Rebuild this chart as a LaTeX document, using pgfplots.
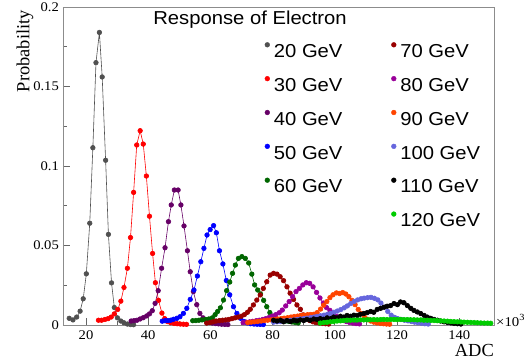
\documentclass[border=0pt]{standalone}
\usepackage{fontspec}
\setmainfont{Liberation Serif}
\newfontfamily\sansw[FakeStretch=1.08]{Liberation Sans}
\newfontfamily\serifw[FakeStretch=1.1]{Liberation Serif}
\usepackage{pgfplots}
\pgfplotsset{compat=1.18}
\newcommand\legfont{\sansw\fontsize{18.8}{20}\selectfont}
\newcommand\tickfont{\serifw\fontsize{13.3}{14}\selectfont}
\newcommand\labfont{\fontsize{18.5}{20}\selectfont}
\newcommand\smallfont{\serifw\fontsize{13.5}{14}\selectfont}
\definecolor{c20}{RGB}{80,80,80}
\definecolor{c30}{RGB}{255,0,0}
\definecolor{c40}{RGB}{102,0,102}
\definecolor{c50}{RGB}{0,0,255}
\definecolor{c60}{RGB}{0,102,0}
\definecolor{c70}{RGB}{153,0,0}
\definecolor{c80}{RGB}{153,0,153}
\definecolor{c90}{RGB}{255,68,0}
\definecolor{c100}{RGB}{102,102,221}
\definecolor{c110}{RGB}{0,0,0}
\definecolor{c120}{RGB}{0,204,0}
\begin{document}
\begin{tikzpicture}
\begin{axis}[
  at={(0,0)}, anchor=south west, scale only axis,
  width=431bp, height=318bp,
  xmin=12.6, xmax=151.15, ymin=0, ymax=0.2,
  clip=false,
  axis line style={draw=black!45, line width=0.8bp},
  xtick={20,40,60,80,100,120,140}, xticklabels={20,40,60,80,100,120,140},
  minor xtick={30,50,70,90,110,130,150},
  ytick={0,0.05,0.1,0.15,0.2}, yticklabels={0,0.05,0.1,0.15,0.2},
  minor ytick={0.025,0.075,0.125,0.175},
  xtick pos=bottom, ytick pos=left, tick align=inside,
  major tick length=7bp, minor tick length=4bp,
  tick style={black!60, line width=0.8bp},
  /pgf/number format/assume math mode=true,
  xticklabel style={font=\tickfont, inner sep=0pt, anchor=north, yshift=-5bp},
  yticklabel style={font=\tickfont, inner sep=0pt, anchor=east, xshift=-4bp},
  ser/.style={mark=*, mark size=2.3bp, line width=0.6bp, forget plot, mark options={solid}},
  legend columns=2,
  legend image code/.code={\fill[#1] (0bp,6bp) circle (2.4bp);},
  legend style={at={(rel axis cs:0.468,0.8893)}, anchor=north west,
    draw=none, fill=none, inner sep=0pt, outer sep=0pt, row sep=18.5bp,
    font=\legfont, legend cell align=left,
    nodes={inner sep=0pt, text height=13.5bp, text depth=0bp},
    /tikz/every odd column/.append style={column sep=4bp},
    /tikz/every even column/.append style={column sep=48.7bp}},
]
% 20 GeV
\addplot[ser, c20] coordinates {(14.6,0.0042)(15.8,0.0032)(17.0,0.0050)(18.1,0.0087)(19.1,0.0165)(20.1,0.0322)(21.2,0.064)(22.2,0.1115)(23.2,0.165)(24.3,0.184)(25.2,0.156)(26.3,0.1036)(27.2,0.057)(28.2,0.0265)(29.1,0.011)(30.1,0.0045)(31.2,0.0025)(32.2,0.0014)(33.3,0.0006)(34.3,0.0003)(35.3,0.0002)};
% 30 GeV
\addplot[ser, c30] coordinates {(24.0,0.003)(25.0,0.003)(26.1,0.0035)(27.1,0.004)(28.1,0.005)(29.1,0.007)(30.2,0.0098)(31.2,0.0150)(32.2,0.0236)(33.3,0.0357)(34.3,0.055)(35.3,0.0834)(36.3,0.1132)(37.4,0.1222)(38.4,0.1138)(39.4,0.0937)(40.4,0.0684)(41.4,0.045)(42.3,0.0266)(43.3,0.0155)(44.4,0.0075)(45.3,0.0040)(46.2,0.0022)(47.2,0.0014)(48.3,0.0010)(49.3,0.0008)(50.3,0.0006)(51.3,0.0005)(52.3,0.0004)};
% 40 GeV
\addplot[ser, c40] coordinates {(34.5,0.0025)(35.4,0.0027)(36.4,0.003)(37.4,0.0038)(38.4,0.0046)(39.5,0.0057)(40.4,0.007)(41.3,0.009)(42.2,0.0136)(43.2,0.0216)(44.3,0.0357)(45.4,0.0486)(46.5,0.065)(47.4,0.0755)(48.4,0.0849)(49.6,0.0849)(50.5,0.0755)(51.5,0.0623)(52.6,0.0467)(53.5,0.0335)(54.5,0.021)(55.6,0.0128)(56.6,0.0073)(57.6,0.0045)(58.6,0.0028)(59.6,0.0018)(60.6,0.0012)(61.6,0.0009)(62.6,0.0007)(63.6,0.0005)(64.6,0.0004)(65.6,0.0003)};
% 50 GeV
\addplot[ser, c50] coordinates {(44.5,0.0024)(45.4,0.0027)(46.3,0.0028)(47.2,0.003)(48.1,0.0036)(49.2,0.0042)(50.2,0.0052)(51.3,0.0073)(52.4,0.0105)(53.5,0.0161)(54.7,0.022)(55.8,0.0308)(56.9,0.0398)(57.9,0.0482)(58.9,0.0566)(59.9,0.0600)(61.0,0.0625)(61.9,0.0580)(62.9,0.0467)(64.0,0.0384)(65.1,0.0280)(66.2,0.0190)(67.4,0.0115)(68.5,0.0073)(69.7,0.0042)(70.8,0.0022)(71.8,0.0013)(72.9,0.0008)(74.0,0.0006)(75.0,0.0005)(76.0,0.0004)(77.0,0.0003)};
% 60 GeV
\addplot[ser, c60] coordinates {(54.3,0.0027)(55.3,0.0028)(56.3,0.003)(57.3,0.0032)(58.4,0.0035)(59.5,0.0038)(60.6,0.0045)(61.5,0.0065)(62.3,0.0085)(63.2,0.0108)(64.2,0.0157)(65.2,0.0216)(66.2,0.027)(67.1,0.0325)(68.0,0.0377)(69.0,0.0419)(70.1,0.043)(71.2,0.0419)(72.3,0.039)(73.3,0.032)(74.2,0.0252)(75.2,0.022)(76.1,0.0195)(77.1,0.0155)(78.1,0.0115)(79.1,0.0078)(80.1,0.0055)(81.1,0.004)(82.1,0.0032)(83.2,0.0028)(84.2,0.0025)(85.2,0.0022)(86.2,0.0019)(87.2,0.0016)(88.2,0.0013)};
% 70 GeV
\addplot[ser, c70] coordinates {(58.8,0.0012)(59.8,0.0015)(60.8,0.002)(61.8,0.0025)(62.9,0.0028)(63.9,0.003)(64.9,0.0032)(65.9,0.0035)(66.9,0.004)(67.9,0.0045)(68.9,0.005)(69.9,0.0055)(70.9,0.0065)(71.9,0.008)(72.8,0.0099)(73.8,0.0126)(74.9,0.0157)(76.0,0.0189)(77.0,0.023)(78.1,0.0272)(79.2,0.0314)(80.3,0.0325)(81.4,0.032)(82.4,0.0304)(83.5,0.0279)(84.6,0.024)(85.6,0.020)(86.7,0.0161)(87.8,0.0126)(88.9,0.0099)(89.9,0.0063)(90.9,0.004)(91.9,0.0028)(92.9,0.002)(93.9,0.0015)(95.0,0.0012)(96.0,0.001)(97.0,0.0008)(98.0,0.0006)};
% 80 GeV
\addplot[ser, c80] coordinates {(70.5,0.0015)(71.5,0.0018)(72.6,0.002)(73.6,0.0023)(74.7,0.0027)(75.7,0.003)(76.8,0.0035)(77.8,0.004)(78.9,0.0048)(79.9,0.0056)(81.0,0.0065)(82.1,0.0077)(83.1,0.0094)(84.2,0.012)(85.3,0.0147)(86.4,0.0178)(87.5,0.021)(88.6,0.023)(89.7,0.0252)(90.8,0.0266)(91.9,0.0262)(93.0,0.024)(94.1,0.0205)(95.2,0.017)(96.3,0.0138)(97.3,0.011)(98.4,0.0092)(99.5,0.0073)(100.5,0.0055)(101.6,0.004)(102.6,0.003)(103.7,0.0022)(104.7,0.0016)(105.8,0.0012)(106.8,0.0009)(107.9,0.0007)};
% 90 GeV
\addplot[ser, c90] coordinates {(72.0,0.0015)(73.1,0.0018)(74.1,0.002)(75.2,0.0022)(76.3,0.0025)(77.3,0.0028)(78.4,0.003)(79.5,0.0032)(80.5,0.0035)(81.6,0.0038)(82.7,0.004)(83.7,0.0043)(84.8,0.0046)(85.9,0.005)(86.9,0.0053)(88.0,0.0056)(89.0,0.006)(90.1,0.0062)(91.2,0.0065)(92.2,0.0066)(93.3,0.0068)(94.3,0.0078)(95.4,0.0100)(96.4,0.0125)(97.4,0.0147)(98.4,0.0172)(99.4,0.0190)(100.5,0.0202)(101.5,0.0198)(102.5,0.0204)(103.5,0.0195)(104.5,0.0178)(105.5,0.0155)(106.5,0.0128)(107.5,0.0098)(108.5,0.0072)(109.5,0.005)(110.5,0.0036)(111.5,0.0025)(112.5,0.0018)(113.5,0.0013)(114.6,0.001)(115.6,0.0008)(116.6,0.0006)(117.6,0.0005)};
% 100 GeV
\addplot[ser, c100] coordinates {(80.3,0.0018)(81.4,0.002)(82.5,0.0022)(83.6,0.0025)(84.6,0.0027)(85.7,0.003)(86.8,0.0032)(87.9,0.0035)(88.9,0.0038)(90.0,0.004)(91.1,0.0043)(92.2,0.0047)(93.3,0.005)(94.3,0.0054)(95.4,0.0058)(96.5,0.0062)(97.6,0.0067)(98.6,0.0073)(99.7,0.008)(100.8,0.0088)(101.9,0.0097)(103.0,0.0108)(104.0,0.012)(105.1,0.0135)(106.2,0.0148)(107.3,0.0158)(108.4,0.0165)(109.4,0.0169)(110.5,0.0172)(111.6,0.0174)(112.7,0.0168)(113.8,0.0158)(114.8,0.0138)(115.9,0.0112)(117.0,0.0085)(118.1,0.0062)(119.2,0.0048)(120.2,0.0040)(121.3,0.0035)(122.4,0.003)(123.5,0.0026)(124.6,0.0022)(125.6,0.0018)(126.7,0.0014)(127.8,0.0011)(128.9,0.0008)(130.0,0.0006)};
% 110 GeV
\addplot[ser, c110] coordinates {(80.3,0.003)(81.4,0.0025)(82.5,0.003)(83.5,0.002)(84.6,0.0028)(85.7,0.0022)(86.8,0.003)(87.8,0.0026)(88.9,0.0032)(90.0,0.0028)(91.0,0.0035)(92.1,0.003)(93.2,0.0038)(94.3,0.0034)(95.3,0.004)(96.4,0.0036)(97.5,0.0045)(98.6,0.004)(99.6,0.005)(100.7,0.0045)(101.8,0.0055)(102.9,0.005)(103.9,0.006)(105.0,0.0055)(106.1,0.0062)(107.2,0.006)(108.2,0.0068)(109.3,0.0072)(110.4,0.0078)(111.5,0.0085)(112.5,0.008)(113.6,0.0098)(114.7,0.0105)(115.8,0.0112)(116.8,0.0118)(117.9,0.0122)(119.0,0.0135)(120.1,0.0128)(121.1,0.0145)(122.2,0.0140)(123.3,0.0122)(124.4,0.0105)(125.4,0.0092)(126.5,0.0082)(127.6,0.0072)(128.7,0.006)(129.7,0.005)(130.8,0.0042)(131.9,0.0035)(133.0,0.003)(134.0,0.0025)(135.1,0.002)(136.2,0.0016)(137.3,0.0013)(138.3,0.001)(139.4,0.0008)(140.5,0.0006)};
% 120 GeV
\addplot[ser, c120] coordinates {(95.3,0.0012)(96.4,0.0015)(97.5,0.0017)(98.5,0.002)(99.6,0.0022)(100.7,0.0025)(101.8,0.0026)(102.8,0.0028)(103.9,0.003)(105.0,0.003)(106.1,0.0031)(107.1,0.0031)(108.2,0.0032)(109.3,0.0032)(110.4,0.0033)(111.4,0.0033)(112.5,0.0034)(113.6,0.0033)(114.7,0.0034)(115.7,0.0035)(116.8,0.0034)(117.9,0.0035)(119.0,0.0035)(120.0,0.0034)(121.1,0.0035)(122.2,0.0034)(123.3,0.0034)(124.3,0.0033)(125.4,0.0033)(126.5,0.0032)(127.6,0.0032)(128.6,0.003)(129.7,0.003)(130.8,0.0029)(131.9,0.0028)(132.9,0.0027)(134.0,0.0026)(135.1,0.0025)(136.2,0.0024)(137.2,0.0022)(138.3,0.0021)(139.4,0.002)(140.5,0.0019)(141.5,0.0018)(142.6,0.0017)(143.7,0.0016)(144.8,0.0015)(145.8,0.0014)(146.9,0.0013)(148.0,0.0012)(149.1,0.0012)(150.1,0.0011)};
% legend (column-wise order)
\addlegendimage{color=c20}\addlegendentry{20 GeV}
\addlegendimage{color=c70}\addlegendentry{70 GeV}
\addlegendimage{color=c30}\addlegendentry{30 GeV}
\addlegendimage{color=c80}\addlegendentry{80 GeV}
\addlegendimage{color=c40}\addlegendentry{40 GeV}
\addlegendimage{color=c90}\addlegendentry{90 GeV}
\addlegendimage{color=c50}\addlegendentry{50 GeV}
\addlegendimage{color=c100}\addlegendentry{100 GeV}
\addlegendimage{color=c60}\addlegendentry{60 GeV}
\addlegendimage{color=c110}\addlegendentry{110 GeV}
\addlegendimage{empty legend}\addlegendentry{}
\addlegendimage{color=c120}\addlegendentry{120 GeV}
\node[font=\legfont, anchor=base, inner sep=0pt] at (rel axis cs:0.434,0.9465) {Response of Electron};
\path (rel axis cs:0,1) ++(-38bp,-3bp) node[font=\labfont, rotate=90, anchor=east, inner sep=0pt] {Probability};
\path (rel axis cs:1,0) ++(0bp,-19.5bp) node[font=\labfont, anchor=north east, inner sep=0pt] {ADC};
\path (rel axis cs:1,0) ++(2bp,-1bp) node[font=\smallfont, anchor=base west, inner sep=0pt] {×10\textsuperscript{3}};
\end{axis}
\pgfresetboundingbox
\useasboundingbox (-63bp,-35bp) rectangle (465bp,325bp);
\end{tikzpicture}
\end{document}
